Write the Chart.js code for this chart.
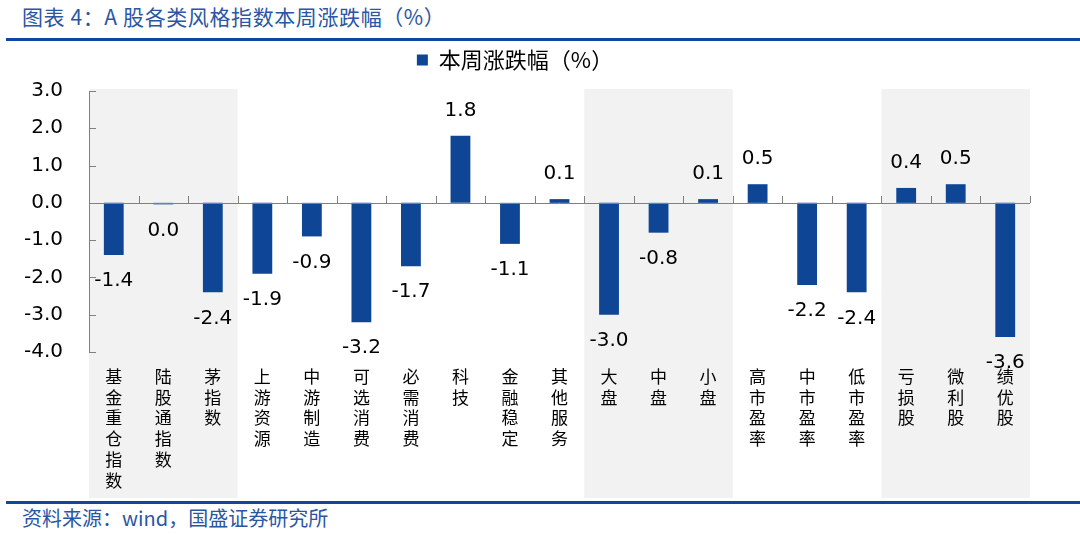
<!DOCTYPE html>
<html>
<head>
<meta charset="utf-8">
<script src="https://cdn.jsdelivr.net/npm/chart.js@4.4.1/dist/chart.umd.min.js"></script>
<style>
  body { margin: 0; width: 1080px; height: 534px; background: #fff; overflow: hidden; position: relative;
         font-family: "Noto Sans CJK SC", sans-serif; }
  #title { position: absolute; left: 22px; top: 1px; font-size: 21px; letter-spacing: 0.6px; color: #2A56A4; white-space: nowrap; }
  .rule { position: absolute; left: 6px; right: 0; height: 3px; background: #0E46A0; }
  #wrap { position: absolute; left: 0; top: 42px; width: 1080px; height: 458px; }
  #src { position: absolute; left: 22px; top: 503px; font-size: 20px; color: #2A56A4; white-space: nowrap; }
</style>
</head>
<body>
<div id="title">图表 4：A 股各类风格指数本周涨跌幅（%）</div>
<div class="rule" style="top:38px"></div>
<div id="wrap"><canvas id="chart"></canvas></div>
<div class="rule" style="top:501px"></div>
<div id="src">资料来源：wind，国盛证券研究所</div>

<script>
const categories = ['基金重仓指数', '陆股通指数', '茅指数', '上游资源', '中游制造', '可选消费', '必需消费',
  '科技', '金融稳定', '其他服务', '大盘', '中盘', '小盘', '高市盈率', '中市盈率', '低市盈率',
  '亏损股', '微利股', '绩优股'];
const weeklyChange = [-1.4, -0.04, -2.4, -1.9, -0.9, -3.2, -1.7, 1.8, -1.1, 0.1, -3.0, -0.8, 0.1,
  0.5, -2.2, -2.4, 0.4, 0.5, -3.6];
const seriesName = '本周涨跌幅（%）';
const yMin = -4, yMax = 3;
// groups of categories with a grey background
const shadedGroups = [[0, 2], [10, 12], [16, 18]];

const fmt = v => Math.abs(v) < 0.05 ? '0.0' : v.toFixed(1);

// give the legend a bit more room below it
const legendGap = {
  id: 'legendGap',
  afterInit(chart) {
    const lg = chart.legend;
    if (!lg) return;
    const fit = lg.fit;
    lg.fit = function () { fit.call(this); this.height += 10; };
  }
};

const bandsPlugin = {
  id: 'bands',
  beforeDraw(chart) {
    const { ctx, scales: { x } } = chart;
    const half = (x.getPixelForValue(1) - x.getPixelForValue(0)) / 2;
    ctx.save();
    ctx.fillStyle = '#F2F2F2';
    shadedGroups.forEach(([a, b]) => {
      const l = x.getPixelForValue(a) - half;
      const r = x.getPixelForValue(b) + half;
      ctx.fillRect(l, chart.chartArea.top - 2, r - l, chart.height - chart.chartArea.top);
    });
    ctx.restore();
  }
};

const axesPlugin = {
  id: 'axesLines',
  afterDatasetsDraw(chart) {
    const { ctx, chartArea, scales: { x, y } } = chart;
    const left = chartArea.left, right = chartArea.right;
    const y0 = y.getPixelForValue(0);
    ctx.save();
    ctx.strokeStyle = '#808080';
    ctx.lineWidth = 1;
    ctx.beginPath();
    ctx.moveTo(left + 0.5, y.getPixelForValue(yMax));
    ctx.lineTo(left + 0.5, y.getPixelForValue(yMin));
    for (let v = yMin; v <= yMax; v++) {
      const py = Math.round(y.getPixelForValue(v)) + 0.5;
      ctx.moveTo(left, py);
      ctx.lineTo(left + 7, py);
    }
    ctx.moveTo(left, Math.round(y0) + 0.5);
    ctx.lineTo(right, Math.round(y0) + 0.5);
    const half = (x.getPixelForValue(1) - x.getPixelForValue(0)) / 2;
    for (let i = 0; i < categories.length; i++) {
      const px = Math.round(x.getPixelForValue(i) + half) + 0.5;
      ctx.moveTo(px, Math.round(y0));
      ctx.lineTo(px, Math.round(y0) - 7);
    }
    ctx.stroke();
    ctx.restore();
  }
};

const valuesPlugin = {
  id: 'values',
  afterDatasetsDraw(chart) {
    const { ctx } = chart;
    const meta = chart.getDatasetMeta(0);
    ctx.save();
    ctx.font = '20px "DejaVu Sans", sans-serif';
    ctx.fillStyle = '#000';
    ctx.textAlign = 'center';
    ctx.textBaseline = 'middle';
    meta.data.forEach((bar, i) => {
      const v = weeklyChange[i];
      const off = v < 0 ? 26 : -25;
      ctx.fillText(fmt(v), bar.x, bar.y + off);
    });
    ctx.restore();
  }
};

new Chart(document.getElementById('chart'), {
  type: 'bar',
  data: {
    labels: categories.map(s => s.split('')),
    datasets: [{
      label: seriesName,
      data: weeklyChange,
      backgroundColor: '#0E4595',
      borderWidth: 0,
      barPercentage: 0.4,
      categoryPercentage: 1
    }]
  },
  options: {
    responsive: true,
    maintainAspectRatio: false,
    animation: false,
    layout: { padding: { top: 0, right: 50, bottom: 0, left: 0 } },
    plugins: {
      legend: {
        position: 'top',
        labels: {
          boxWidth: 11,
          boxHeight: 11,
          padding: 7,
          color: '#000',
          font: { family: '"Noto Sans CJK SC", sans-serif', size: 22 }
        }
      },
      tooltip: { enabled: false }
    },
    scales: {
      x: {
        grid: { display: false, drawTicks: false },
        border: { display: false },
        ticks: {
          color: '#000',
          padding: 14,
          autoSkip: false,
          maxRotation: 0,
          font: { family: '"Noto Sans CJK SC", sans-serif', size: 17, lineHeight: 1.22 }
        },
        afterFit(s) { s.height = 148; }
      },
      y: {
        min: yMin,
        max: yMax,
        grid: { display: false, drawTicks: false },
        border: { display: false },
        ticks: {
          stepSize: 1,
          color: '#000',
          padding: 26,
          font: { family: '"DejaVu Sans", sans-serif', size: 20 },
          callback: v => v.toFixed(1)
        },
        afterFit(s) { s.width = 89; }
      }
    }
  },
  plugins: [legendGap, bandsPlugin, axesPlugin, valuesPlugin]
});
</script>
</body>
</html>
